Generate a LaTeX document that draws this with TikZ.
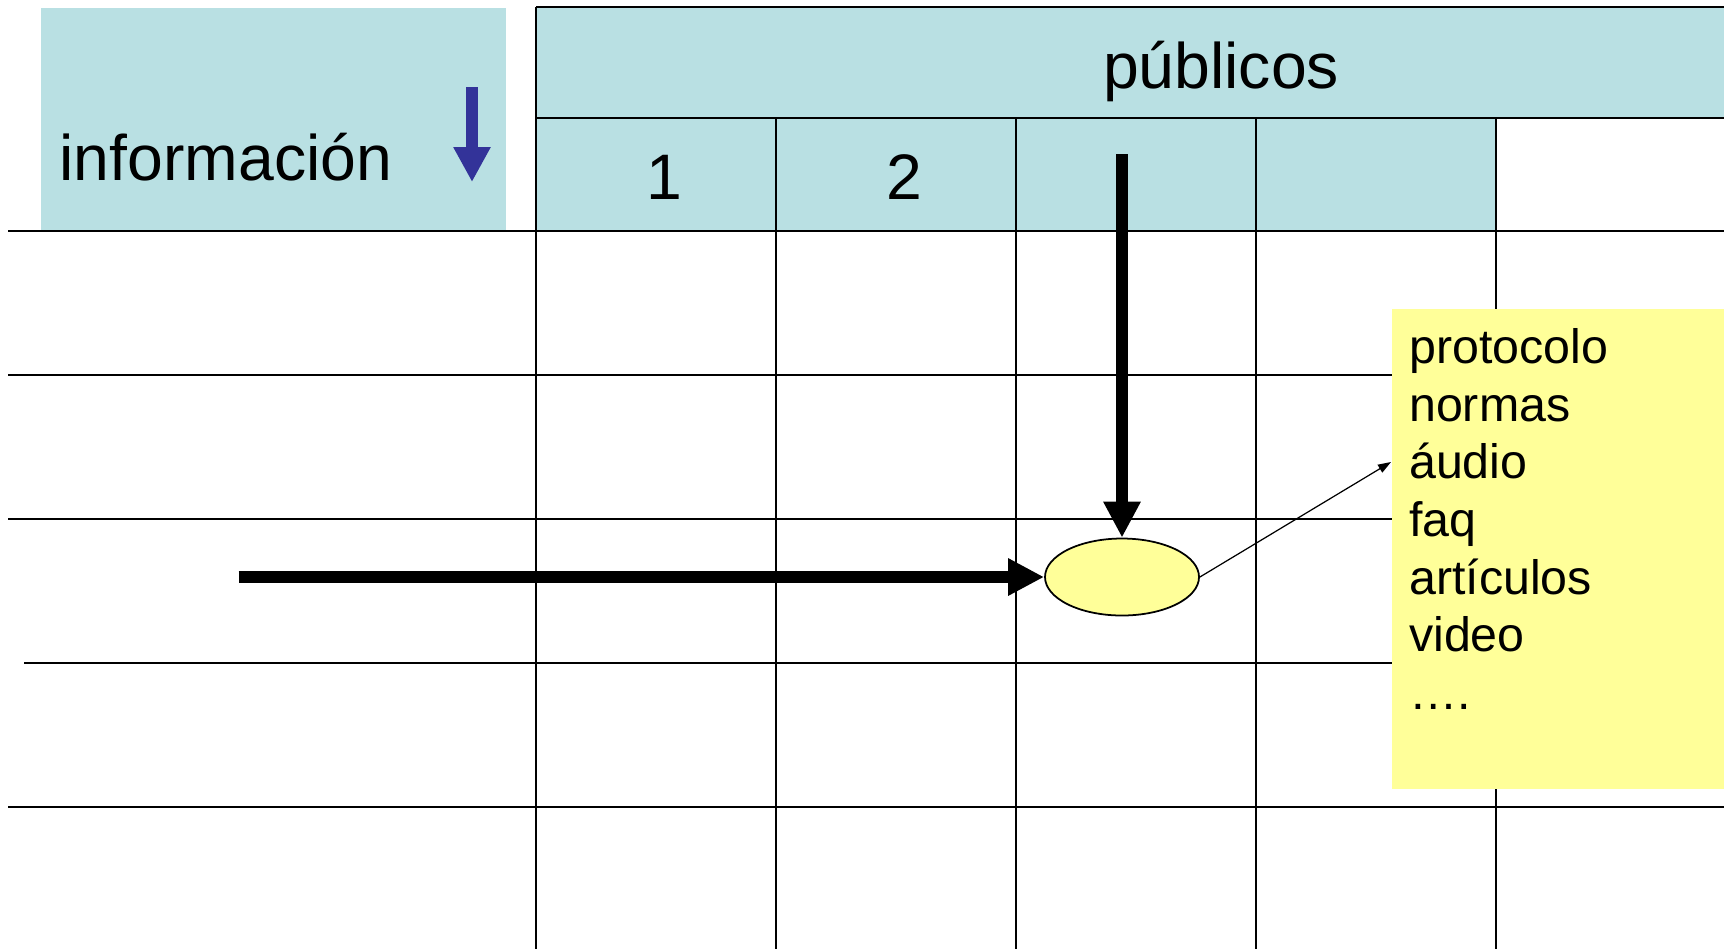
\documentclass[tikz,border=0pt]{standalone}
\usepackage{fontspec}
\setmainfont{Liberation Sans}
\usetikzlibrary{positioning,shapes.geometric,arrows.meta}
\definecolor{HeadBlue}{HTML}{B9E0E3}
\definecolor{NoteYellow}{HTML}{FFFF99}
\definecolor{ArrowBlue}{HTML}{333399}

\begin{document}
\begin{tikzpicture}[every node/.style={font=\fontsize{18.3}{21}\selectfont, inner sep=0pt}]
    \tikzstyle{gridline}=[line width=0.6pt, black]
    \tikzstyle{fillbox}=[fill=HeadBlue, draw=none, anchor=north west, inner sep=0pt]
    \tikzstyle{item}=[font=\fontsize{13.75}{16}\selectfont, anchor=base west]
    \tikzstyle{bigarrow}=[line width=0.12cm, -{Triangle[length=0.36cm, width=0.35cm]}]
    \useasboundingbox (0,0) rectangle (17.24,-9.49);
    % header fills
    \node[fillbox, minimum width=4.65cm, minimum height=2.23cm] (info) at (0.40,-0.07) {};
    \node[fillbox, minimum width=11.88cm, minimum height=1.11cm] (pub) at (5.36,-0.07) {};
    \node[fillbox, minimum width=9.60cm, minimum height=1.13cm] (cols) at (5.36,-1.18) {};
    % grid
    \draw[gridline] (5.36,-0.07) -- (17.24,-0.07);
    \draw[gridline] (5.36,-1.18) -- (17.24,-1.18);
    \foreach \y in {2.31,3.75,5.19,8.07}
      \draw[gridline] (0.08,-\y) -- (17.24,-\y);
    \draw[gridline] (0.24,-6.63) -- (17.24,-6.63);
    \draw[gridline] (5.36,-0.07) -- (5.36,-9.49);
    \foreach \x in {7.76,10.16,12.56,14.96}
      \draw[gridline] (\x,-1.18) -- (\x,-9.49);
    % header texts
    \node[anchor=base west] (infotext) at (0.59,-1.807) {información};
    \node[anchor=base] (pubtext) at (12.21,-0.883) {públicos};
    \node[anchor=base] (col1) at (6.64,-1.99) {1};
    \node[anchor=base] (col2) at (9.04,-1.99) {2};
    \coordinate (btop) at (4.72,-0.87);
    \coordinate (bend) at (4.72,-1.82);
    \draw[ArrowBlue, line width=0.12cm, -{Triangle[length=0.35cm, width=0.35cm]}] (btop) -- (bend);
    % note with media list
    \node[fill=NoteYellow, anchor=north west, minimum width=3.33cm, minimum height=4.80cm] (note) at (13.91,-3.08) {};
    \foreach \w [count=\i] in {protocolo, normas, áudio, faq, artículos, video, ….}
      \node[item] (item\i) at (14.085,{-3.633-0.577*(\i-1)}) {\w};
    % crossing point
    \node[ellipse, draw, fill=NoteYellow, line width=0.5pt, minimum width=1.54cm, minimum height=0.77cm] (spot) at (11.22,-5.77) {};
    \coordinate (hstart) at (2.387,-5.77);
    \coordinate (vstart) at (11.22,-1.54);
    \coordinate (hit) at (13.91,-4.62);
    \draw[bigarrow] (hstart) -- (spot.west);
    \draw[bigarrow] (vstart) -- (spot.north);
    \draw[line width=0.35pt, -{Triangle[length=0.13cm, width=0.09cm]}] (spot.east) -- (hit);
  \end{tikzpicture}
\end{document}
